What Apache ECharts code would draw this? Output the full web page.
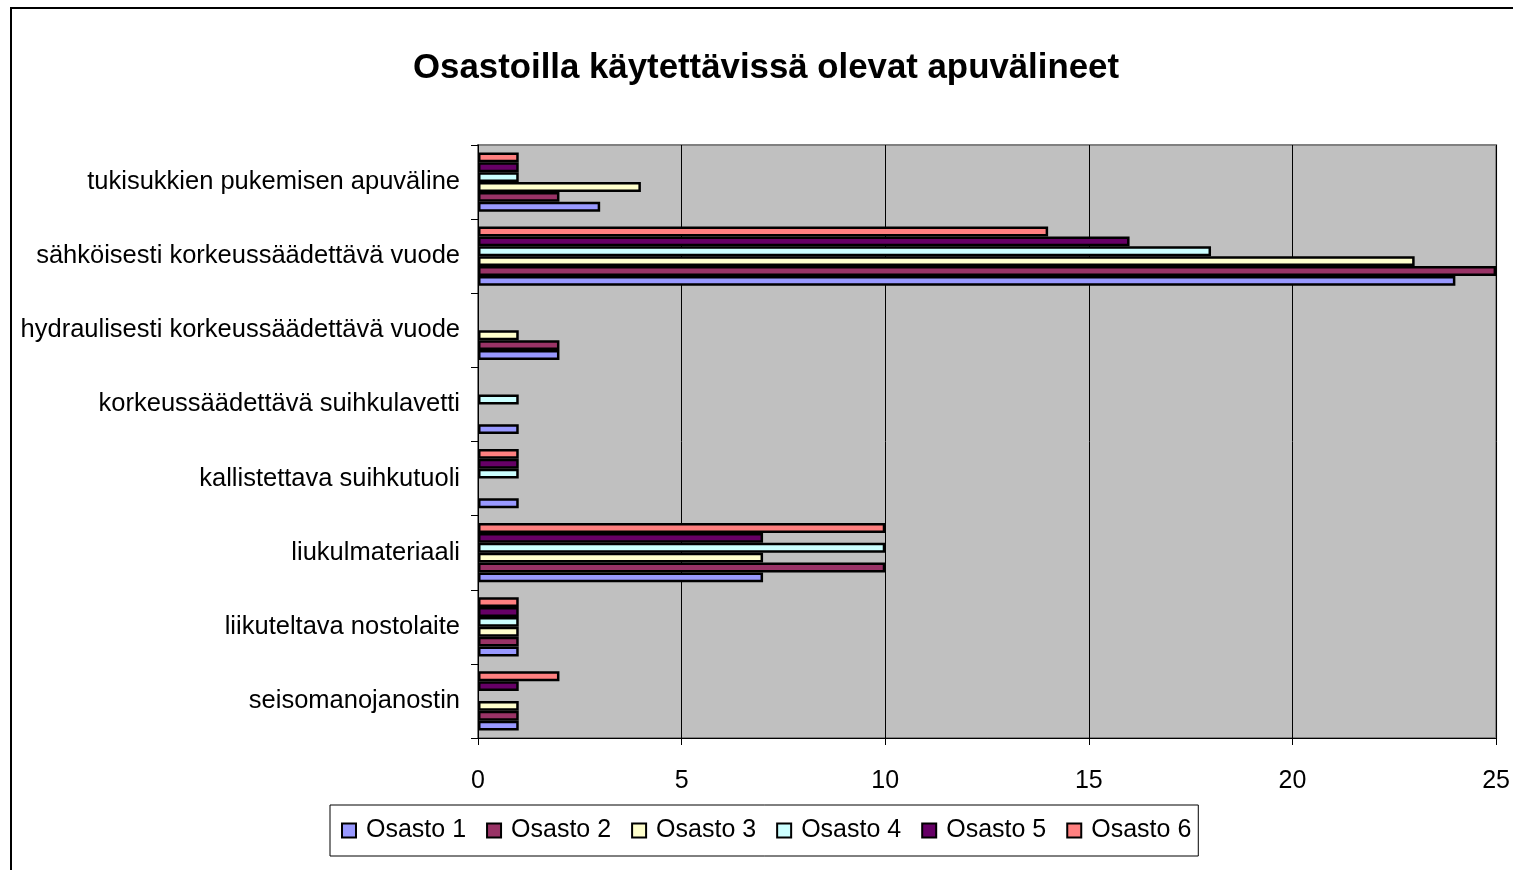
<!DOCTYPE html>
<html>
<head>
<meta charset="utf-8">
<script src="https://cdn.jsdelivr.net/npm/echarts@6/dist/echarts.min.js"></script>
<style>
  html, body { margin: 0; padding: 0; background: #fff; }
  #main { width: 1513px; height: 870px; }
</style>
</head>
<body>
<div id="main"></div>
<script>
// categories listed bottom -> top
var categories = [
    'seisomanojanostin',
    'liikuteltava nostolaite',
    'liukulmateriaali',
    'kallistettava suihkutuoli',
    'korkeussäädettävä suihkulavetti',
    'hydraulisesti korkeussäädettävä vuode',
    'sähköisesti korkeussäädettävä vuode',
    'tukisukkien pukemisen apuväline'
];
var seriesNames = ['Osasto 1', 'Osasto 2', 'Osasto 3', 'Osasto 4', 'Osasto 5', 'Osasto 6'];
var osasto1 = [1, 1, 7, 1, 1, 2, 24, 3];
var osasto2 = [1, 1, 10, 0, 0, 2, 25, 2];
var osasto3 = [1, 1, 7, 0, 0, 1, 23, 4];
var osasto4 = [0, 1, 10, 1, 1, 0, 18, 1];
var osasto5 = [1, 1, 7, 1, 0, 0, 16, 1];
var osasto6 = [2, 1, 10, 1, 0, 0, 14, 1];
var seriesColors = ['#9999FF', '#993366', '#FFFFCC', '#CCFFFF', '#660066', '#FF8080'];
var xTicks = [0, 5, 10, 15, 20, 25];

var allValues = [osasto1, osasto2, osasto3, osasto4, osasto5, osasto6];

var chart = echarts.init(document.getElementById('main'));

// echarts stacks the first series at the top of the band, so add them reversed
var series = [];
for (var i = seriesNames.length - 1; i >= 0; i--) {
    series.push({
        name: seriesNames[i],
        type: 'bar',
        data: allValues[i].map(function (v) { return v === 0 ? null : v; }),
        barGap: '0%',
        barCategoryGap: '20%',
        itemStyle: {
            color: seriesColors[i],
            borderColor: '#000',
            borderWidth: 2.5
        }
    });
}

chart.setOption({
    animation: false,
    textStyle: { fontFamily: 'Liberation Sans, Arial, sans-serif' },
    title: {
        text: 'Osastoilla käytettävissä olevat apuvälineet',
        left: 761,
        top: 46,
        textAlign: 'center',
        textStyle: {
            fontSize: 34.8,
            fontWeight: 'bold',
            color: '#000',
            fontFamily: 'Liberation Sans, Arial, sans-serif'
        }
    },
    graphic: [{
        type: 'rect',
        shape: { x: 11, y: 8, width: 1600, height: 1000 },
        style: { fill: 'none', stroke: '#000', lineWidth: 2 },
        silent: true
    }],
    legend: {
        data: seriesNames,
        left: 330,
        top: 805,
        padding: [13, 7, 13, 11],
        itemGap: 20,
        itemWidth: 14,
        itemHeight: 14,
        borderColor: '#000',
        borderWidth: 1,
        icon: 'rect',
        textStyle: { fontSize: 25, color: '#000', padding: [0, 0, 0, 5] }
    },
    grid: {
        left: 478,
        right: 15,
        top: 145,
        bottom: 132,
        show: true,
        backgroundColor: '#C0C0C0',
        borderColor: '#808080',
        borderWidth: 2
    },
    xAxis: {
        type: 'value',
        min: xTicks[0],
        max: xTicks[xTicks.length - 1],
        interval: 5,
        axisLine: { show: true, lineStyle: { color: '#000', width: 1 } },
        axisTick: { show: true, length: 7, lineStyle: { color: '#000' } },
        axisLabel: { fontSize: 25, color: '#000', margin: 31 },
        splitLine: { show: true, lineStyle: { color: '#000', width: 1 } }
    },
    yAxis: {
        type: 'category',
        data: categories,
        axisLine: { show: true, lineStyle: { color: '#000', width: 1 } },
        axisTick: { show: true, length: 7, lineStyle: { color: '#000' } },
        axisLabel: { fontSize: 25.5, color: '#000', margin: 18 },
        splitLine: { show: false }
    },
    series: series
});
</script>
</body>
</html>
